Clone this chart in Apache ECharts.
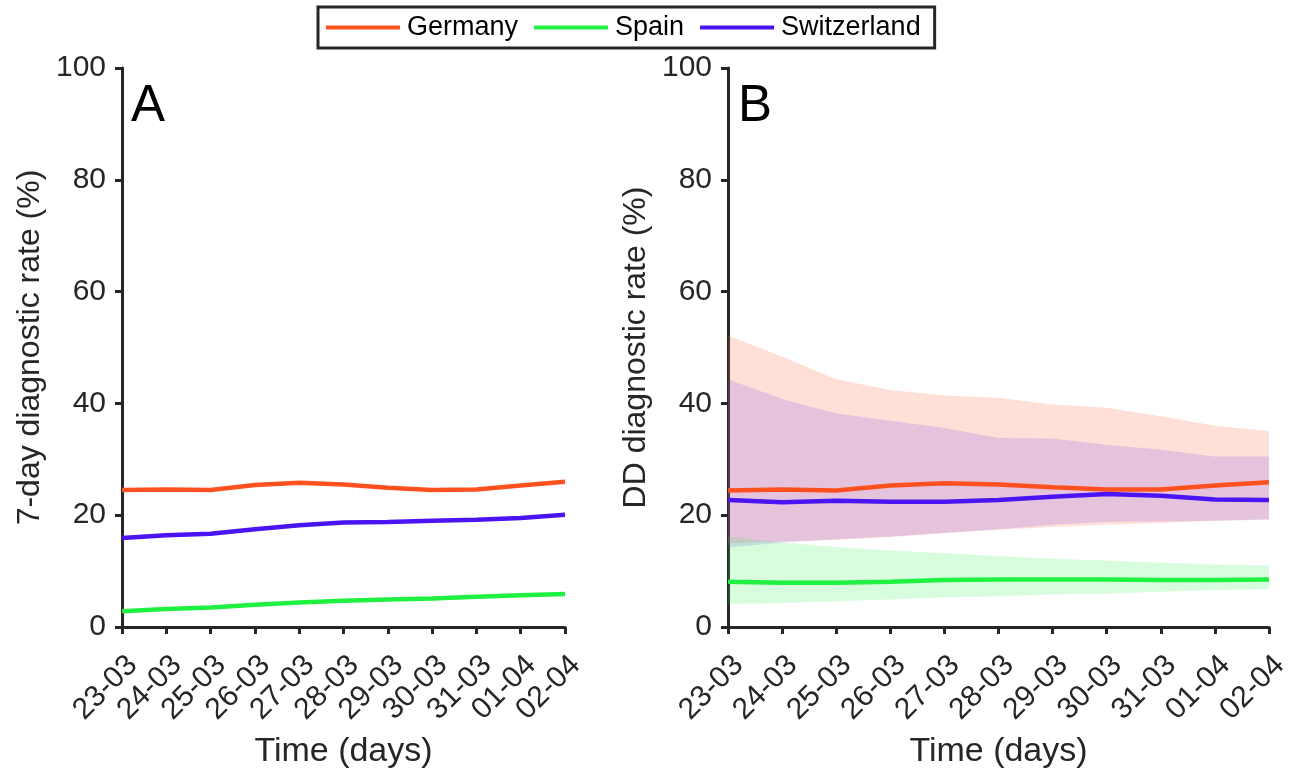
<!DOCTYPE html>
<html><head><meta charset="utf-8">
<script src="https://cdn.jsdelivr.net/npm/echarts@6/dist/echarts.min.js"></script>
<style>html,body{margin:0;padding:0;background:#fff}#c{width:1301px;height:774px}</style>
</head><body><div id="c"></div>
<script>
const categories = ['23-03','24-03','25-03','26-03','27-03','28-03','29-03','30-03','31-03','01-04','02-04'];
const yTicks = [0,20,40,60,80,100];
// Panel A: 7-day diagnostic rate
const germanyA = [24.5,24.6,24.5,25.4,25.8,25.5,24.9,24.5,24.6,25.3,26.0];
const spainA   = [2.8,3.2,3.5,4.0,4.4,4.7,4.9,5.1,5.4,5.7,5.9];
const switzA   = [15.9,16.4,16.7,17.5,18.2,18.7,18.8,19.0,19.2,19.5,20.1];
// Panel B: DD diagnostic rate
const germanyB = [24.4,24.6,24.4,25.3,25.7,25.5,25.0,24.6,24.6,25.3,25.9];
const spainB   = [8.1,7.9,7.9,8.1,8.4,8.5,8.5,8.5,8.4,8.4,8.5];
const switzB   = [22.7,22.3,22.6,22.4,22.4,22.7,23.3,23.8,23.5,22.8,22.7];
// Panel B: uncertainty bands
const germanyLow  = [15.0,15.3,15.6,16.1,16.8,17.4,17.9,18.3,18.6,19.0,19.3];
const germanyHigh = [52.1,48.4,44.3,42.4,41.4,41.0,39.8,39.2,37.7,36.0,35.0];
const switzLow    = [14.2,15.1,15.7,16.2,16.8,17.5,18.3,18.8,18.9,19.0,19.2];
const switzHigh   = [44.3,40.8,38.2,36.9,35.6,33.8,33.7,32.6,31.7,30.5,30.5];
const spainLow    = [4.1,4.3,4.6,4.9,5.3,5.5,5.8,6.0,6.3,6.6,6.8];
const spainHigh   = [16.2,15.1,14.3,13.7,13.2,12.7,12.2,11.9,11.5,11.2,11.0];

const C = {Germany:'#FF5020', Spain:'#20F040', Switzerland:'#4A14F5'};
const INK = '#262626';
const FONT = '"Liberation Sans", Arial, sans-serif';

function xAxis(gi){
  return {type:'category', gridIndex:gi, data:categories, boundaryGap:false,
    name:'Time (days)', nameLocation:'middle', nameGap:108,
    nameTextStyle:{fontSize:34, color:INK, fontFamily:FONT},
    axisLine:{lineStyle:{color:INK, width:3}},
    axisTick:{alignWithLabel:true, length:7, lineStyle:{color:INK, width:3}},
    axisLabel:{rotate:45, fontSize:30, color:INK, fontFamily:FONT, margin:23, interval:0, verticalAlign:'top'},
    splitLine:{show:false}};
}
function yAxis(gi, name){
  return {type:'value', gridIndex:gi, min:yTicks[0], max:yTicks[yTicks.length-1], interval:20,
    name:name, nameLocation:'middle', nameGap:76,
    nameTextStyle:{fontSize:32, color:INK, fontFamily:FONT},
    axisLine:{show:true, lineStyle:{color:INK, width:3}},
    axisTick:{show:true, length:7, lineStyle:{color:INK, width:3}},
    axisLabel:{fontSize:30, color:INK, fontFamily:FONT, margin:16},
    splitLine:{show:false}};
}
function line(name, data, gi){
  return {name:name, type:'line', xAxisIndex:gi, yAxisIndex:gi, data:data, symbol:'none',
    z:5, lineStyle:{color:C[name], width:4.5}, itemStyle:{color:C[name]}};
}
function band(key, low, high, fill){
  const diff = high.map((h,i)=> +(h-low[i]).toFixed(2));
  return [
    {name:key+' low', type:'line', xAxisIndex:1, yAxisIndex:1, stack:key, data:low, symbol:'none',
     lineStyle:{opacity:0}, z:1, silent:true},
    {name:key+' band', type:'line', xAxisIndex:1, yAxisIndex:1, stack:key, data:diff, symbol:'none',
     lineStyle:{opacity:0}, areaStyle:{color:fill, opacity:1}, z:1, silent:true}
  ];
}

const chart = echarts.init(document.getElementById('c'), null, {renderer:'canvas'});
chart.setOption({
  animation:false,
  backgroundColor:'#fff',
  textStyle:{fontFamily:FONT},
  title:[
    {text:'A', left:126, top:76, textStyle:{fontSize:51, fontWeight:'normal', color:'#000', fontFamily:FONT}},
    {text:'B', left:733, top:76, textStyle:{fontSize:51, fontWeight:'normal', color:'#000', fontFamily:FONT}}
  ],
  legend:{data:['Germany','Spain','Switzerland'], left:318, top:7, icon:'rect', itemWidth:74, itemHeight:4,
    itemGap:16, borderColor:INK, borderWidth:3, padding:[7,14,7,8], backgroundColor:'#fff',
    textStyle:{fontSize:27, color:'#000', fontFamily:FONT, padding:[0,0,0,2]}},
  grid:[
    {left:122, top:68, width:443, height:560},
    {left:728, top:68, width:541, height:560}
  ],
  xAxis:[xAxis(0), xAxis(1)],
  yAxis:[yAxis(0,'7-day diagnostic rate (%)'), yAxis(1,'DD diagnostic rate (%)')],
  series:[
    ...band('g', germanyLow, germanyHigh, 'rgba(248,110,70,0.21)'),
    ...band('s', switzLow, switzHigh, 'rgba(120,70,245,0.19)'),
    ...band('e', spainLow, spainHigh, 'rgba(40,240,70,0.18)'),
    line('Germany', germanyA, 0), line('Spain', spainA, 0), line('Switzerland', switzA, 0),
    line('Germany', germanyB, 1), line('Spain', spainB, 1), line('Switzerland', switzB, 1)
  ]
});
</script></body></html>
